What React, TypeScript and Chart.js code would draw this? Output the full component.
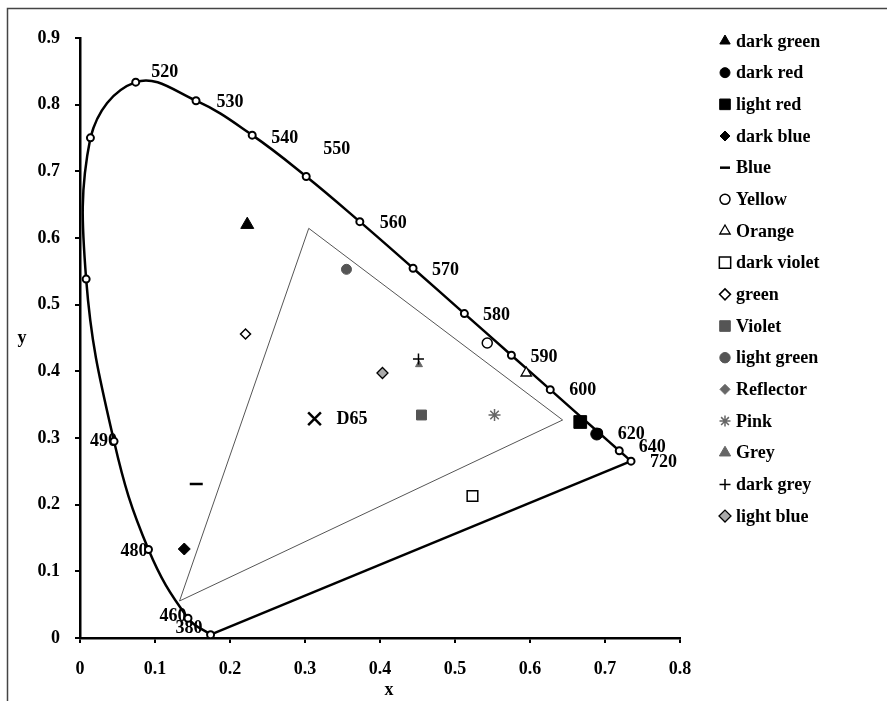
import React, { useEffect, useRef } from 'react';
import { Chart, registerables } from 'chart.js';
import { drawPoint } from 'chart.js/helpers';

Chart.register(...registerables);

// Spectral locus (CIE 1931) marker points
const WAVELENGTH_LABELS = ['380', '460', '480', '490', '', '', '520', '530', '540', '550', '560', '570', '580', '590', '600', '620', '640', '720'];
const LOCUS_X = [0.1741, 0.1440, 0.0913, 0.0454, 0.0082, 0.0139, 0.0743, 0.1547, 0.2296, 0.3016, 0.3731, 0.4441, 0.5125, 0.5752, 0.6270, 0.6915, 0.7190, 0.7347];
const LOCUS_Y = [0.0050, 0.0297, 0.1327, 0.2950, 0.5384, 0.7502, 0.8338, 0.8059, 0.7543, 0.6923, 0.6245, 0.5547, 0.4866, 0.4242, 0.3725, 0.3083, 0.2809, 0.2653];

// Purple line (720 -> 380)
const PURPLE_X = [0.7347, 0.1741];
const PURPLE_Y = [0.2653, 0.0050];

// Gamut triangle
const GAMUT_X = [0.305, 0.6435, 0.1327, 0.305];
const GAMUT_Y = [0.6145, 0.327, 0.0555, 0.6145];

// White point
const WHITE_LABEL = 'D65';
const WHITE_X = [0.3127];
const WHITE_Y = [0.3290];

// Samples
const SAMPLE_NAMES = ['dark green', 'dark red', 'light red', 'dark blue', 'Blue', 'Yellow', 'Orange', 'dark violet', 'green', 'Violet', 'light green', 'Reflector', 'Pink', 'Grey', 'dark grey', 'light blue'];
const SAMPLE_X = [0.223, 0.689, 0.667, 0.139, 0.155, 0.543, 0.595, 0.5233, 0.2207, 0.4553, 0.3553, 0.4033, 0.5527, 0.452, 0.4513, 0.4033];
const SAMPLE_Y = [0.620, 0.306, 0.324, 0.1335, 0.231, 0.4425, 0.3975, 0.213, 0.456, 0.3345, 0.553, 0.3975, 0.3345, 0.410, 0.4185, 0.3975];

const X_TICKS = [0, 0.1, 0.2, 0.3, 0.4, 0.5, 0.6, 0.7, 0.8];
const Y_TICKS = [0, 0.1, 0.2, 0.3, 0.4, 0.5, 0.6, 0.7, 0.8, 0.9];

// ---- styles / layout (not data) ----
const FONT_FAMILY = '"Liberation Serif", "Times New Roman", serif';
const FONT = `bold 18px ${FONT_FAMILY}`;

const LABEL_PLACEMENT: [number, number, CanvasTextAlign][] = [
  [-8, -6, 'right'], [-1.5, -2, 'right'], [-1, 1.5, 'right'], [3, 0.5, 'right'], [0, 0, 'left'], [0, 0, 'left'],
  [15.5, -10, 'left'], [20.5, 2, 'left'], [19, 3, 'left'], [17, -27, 'left'], [20, 1.5, 'left'], [19, 2, 'left'],
  [18.5, 1.5, 'left'], [19, 2, 'left'], [19, 1, 'left'], [19, 1.5, 'left'], [19.5, -3.5, 'left'], [19, 1.5, 'left'],
];

type PS = { style: string; r: number; fill: string; stroke: string; bw: number; lr: number };
const SAMPLE_STYLES: PS[] = [
  { style: 'triangle', r: 7.5, fill: '#000', stroke: '#000', bw: 1, lr: 6 },
  { style: 'circle', r: 6, fill: '#000', stroke: '#000', bw: 1, lr: 5 },
  { style: 'rect', r: 9, fill: '#000', stroke: '#000', bw: 1, lr: 7.5 },
  { style: 'rectRot', r: 6, fill: '#000', stroke: '#000', bw: 1, lr: 5 },
  { style: 'line', r: 6.5, fill: '#000', stroke: '#000', bw: 2.5, lr: 5 },
  { style: 'circle', r: 5, fill: '#fff', stroke: '#000', bw: 1.5, lr: 5 },
  { style: 'triangle', r: 6, fill: '#fff', stroke: '#000', bw: 1.3, lr: 6 },
  { style: 'rect', r: 7.5, fill: '#fff', stroke: '#000', bw: 1.5, lr: 8 },
  { style: 'rectRot', r: 5, fill: '#fff', stroke: '#000', bw: 1.5, lr: 5.5 },
  { style: 'rect', r: 7, fill: '#555', stroke: '#555', bw: 1, lr: 7.5 },
  { style: 'circle', r: 5, fill: '#555', stroke: '#555', bw: 1, lr: 5.2 },
  { style: 'rectRot', r: 5, fill: '#666', stroke: '#666', bw: 1, lr: 5 },
  { style: 'star', r: 6, fill: '#666', stroke: '#666', bw: 1.5, lr: 5.5 },
  { style: 'triangle', r: 4, fill: '#666', stroke: '#666', bw: 1, lr: 6.5 },
  { style: 'cross', r: 5.5, fill: '#000', stroke: '#000', bw: 1.5, lr: 5.5 },
  { style: 'rectRot', r: 5.5, fill: '#aaa', stroke: '#000', bw: 1.3, lr: 6 },
];

const zip = (xs: number[], ys: number[]) => xs.map((x, i) => ({ x, y: ys[i] }));

const overlayPlugin = {
  id: 'overlay',
  beforeDatasetsDraw(chart: any) {
    const ctx = chart.ctx as CanvasRenderingContext2D;
    const xs = chart.scales.x, ys = chart.scales.y;
    ctx.save();
    ctx.font = FONT;
    ctx.fillStyle = '#000';
    ctx.textBaseline = 'middle';
    WAVELENGTH_LABELS.forEach((lab, i) => {
      if (!lab) return;
      const [dx, dy, al] = LABEL_PLACEMENT[i];
      ctx.textAlign = al;
      ctx.fillText(lab, xs.getPixelForValue(LOCUS_X[i]) + dx, ys.getPixelForValue(LOCUS_Y[i]) + dy);
    });
    ctx.textAlign = 'left';
    ctx.fillText(WHITE_LABEL, xs.getPixelForValue(WHITE_X[0]) + 22, ys.getPixelForValue(WHITE_Y[0]) + 1);
    ctx.restore();
  },
  afterDraw(chart: any) {
    const ctx = chart.ctx as CanvasRenderingContext2D;
    ctx.save();
    // frame
    ctx.strokeStyle = '#444';
    ctx.lineWidth = 1.5;
    ctx.beginPath();
    ctx.moveTo(7.5, 701);
    ctx.lineTo(7.5, 8.5);
    ctx.lineTo(887, 8.5);
    ctx.stroke();
    // axis titles
    ctx.font = FONT;
    ctx.fillStyle = '#000';
    ctx.textBaseline = 'middle';
    ctx.textAlign = 'center';
    ctx.fillText('x', 389, 690);
    ctx.fillText('y', 22, 338);
    // legend
    SAMPLE_NAMES.forEach((name, i) => {
      const s = SAMPLE_STYLES[i];
      const y = 41 + i * 31.67;
      ctx.fillStyle = s.fill;
      ctx.strokeStyle = s.stroke;
      ctx.lineWidth = s.bw;
      drawPoint(ctx, { pointStyle: s.style as any, radius: s.lr, borderWidth: s.bw, rotation: 0 } as any, 725, y);
      ctx.fillStyle = '#000';
      ctx.textAlign = 'left';
      ctx.fillText(name, 736, y + 1);
    });
    ctx.restore();
  },
};

export default function App() {
  const ref = useRef<HTMLCanvasElement>(null);
  useEffect(() => {
    const datasets: any[] = [
      {
        label: 'locus', data: zip(LOCUS_X, LOCUS_Y), showLine: true, tension: 0.4,
        borderColor: '#000', borderWidth: 2.5, pointRadius: 3.5, pointBorderWidth: 2,
        pointBackgroundColor: '#fff', pointBorderColor: '#000', pointStyle: 'circle', order: 100,
      },
      {
        label: 'purple', data: zip(PURPLE_X, PURPLE_Y), showLine: true, borderColor: '#000', borderWidth: 2.5,
        pointRadius: 0, order: 101,
      },
      {
        label: 'gamut', data: zip(GAMUT_X, GAMUT_Y), showLine: true, borderColor: '#555', borderWidth: 1,
        pointRadius: 0, order: 102,
      },
      {
        label: WHITE_LABEL, data: zip(WHITE_X, WHITE_Y), pointStyle: 'crossRot', pointRadius: 9,
        pointBorderWidth: 2.5, pointBorderColor: '#000', borderColor: '#000', order: 50,
      },
      ...SAMPLE_NAMES.map((name, i) => {
        const s = SAMPLE_STYLES[i];
        return {
          label: name, data: [{ x: SAMPLE_X[i], y: SAMPLE_Y[i] }], pointStyle: s.style, pointRadius: s.r,
          pointBackgroundColor: s.fill, backgroundColor: s.fill, pointBorderColor: s.stroke, borderColor: s.stroke,
          pointBorderWidth: s.bw, order: 20 - i,
        };
      }),
    ];
    const tickFont = { family: FONT_FAMILY, size: 18, weight: 'bold' as const };
    const chart = new Chart(ref.current!, {
      type: 'scatter',
      data: { datasets },
      plugins: [overlayPlugin],
      options: {
        animation: false,
        responsive: false,
        devicePixelRatio: 1,
        events: [],
        layout: { padding: { top: 38, right: 207, left: 0, bottom: 0 } },
        plugins: { legend: { display: false }, tooltip: { enabled: false } },
        scales: {
          x: {
            type: 'linear', min: 0, max: 0.8,
            afterFit: (s: any) => { s.height = 63; },
            afterBuildTicks: (s: any) => { s.ticks = X_TICKS.map((v) => ({ value: v })); },
            ticks: { font: tickFont, color: '#000', padding: 16, maxRotation: 0 },
            grid: { drawOnChartArea: false, drawTicks: true, tickLength: 5, color: '#000', lineWidth: 2 },
            border: { display: true, color: '#000', width: 2.5 },
          },
          y: {
            type: 'linear', min: 0, max: 0.9,
            afterFit: (s: any) => { s.width = 80; },
            afterBuildTicks: (s: any) => { s.ticks = Y_TICKS.map((v) => ({ value: v })); },
            ticks: { font: tickFont, color: '#000', padding: 15 },
            grid: { drawOnChartArea: false, drawTicks: true, tickLength: 5, color: '#000', lineWidth: 2 },
            border: { display: true, color: '#000', width: 2.5 },
          },
        },
      } as any,
    });
    return () => chart.destroy();
  }, []);
  return (
    <div style={{ position: 'absolute', left: 0, top: 0, width: 887, height: 701, background: '#fff' }}>
      <canvas ref={ref} width={887} height={701} style={{ display: 'block' }} />
    </div>
  );
}
